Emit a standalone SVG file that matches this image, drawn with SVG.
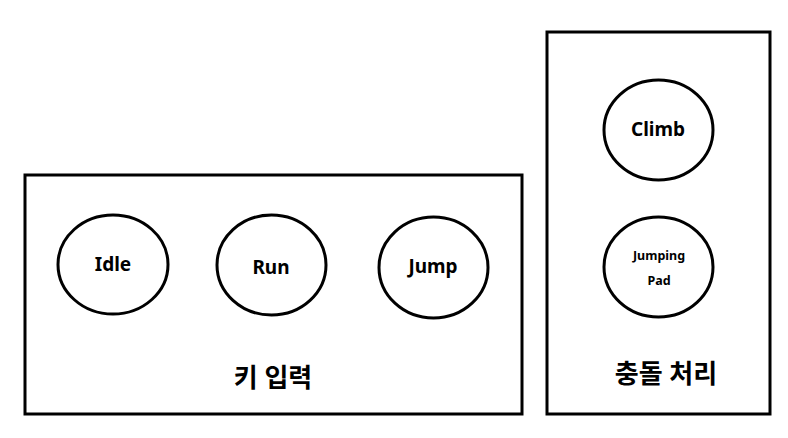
<svg xmlns="http://www.w3.org/2000/svg" width="788" height="438" viewBox="0 0 788 438">
<style>
.box{fill:#fff;stroke:#000;stroke-width:3}
.node{fill:#fff;stroke:#000;stroke-width:3}
.t{font-family:"Noto Sans","Noto Sans CJK KR",sans-serif;font-weight:bold;fill:#000;text-anchor:middle;dominant-baseline:central}
.n{font-size:19px}
.s{font-size:12.5px}
.k{font-size:26px}
</style>
<rect width="788" height="438" fill="#fff"/>
<g id="group-key">
<rect class="box" x="25" y="175" width="497" height="239"/>
<text class="t k" x="273" y="377">키 입력</text>
</g>
<g id="group-collision">
<rect class="box" x="547" y="32" width="223" height="382"/>
<text class="t k" x="666" y="373">충돌 처리</text>
</g>
<g id="idle"><ellipse class="node" cx="113" cy="264.5" rx="55" ry="49.5"/><text class="t n" x="113" y="264">Idle</text></g>
<g id="run"><ellipse class="node" cx="271.5" cy="265" rx="54.5" ry="50"/><text class="t n" x="271" y="267">Run</text></g>
<g id="jump"><ellipse class="node" cx="433.5" cy="267.5" rx="54.5" ry="50.5"/><text class="t n" x="433" y="266">Jump</text></g>
<g id="climb"><ellipse class="node" cx="658.5" cy="130" rx="54.5" ry="50"/><text class="t n" x="658" y="129">Climb</text></g>
<g id="jumpingpad"><ellipse class="node" cx="658.5" cy="267" rx="54.5" ry="50"/><text class="t s" x="659" y="255">Jumping</text><text class="t s" x="659" y="280">Pad</text></g>
<g id="connectors"></g>
</svg>
